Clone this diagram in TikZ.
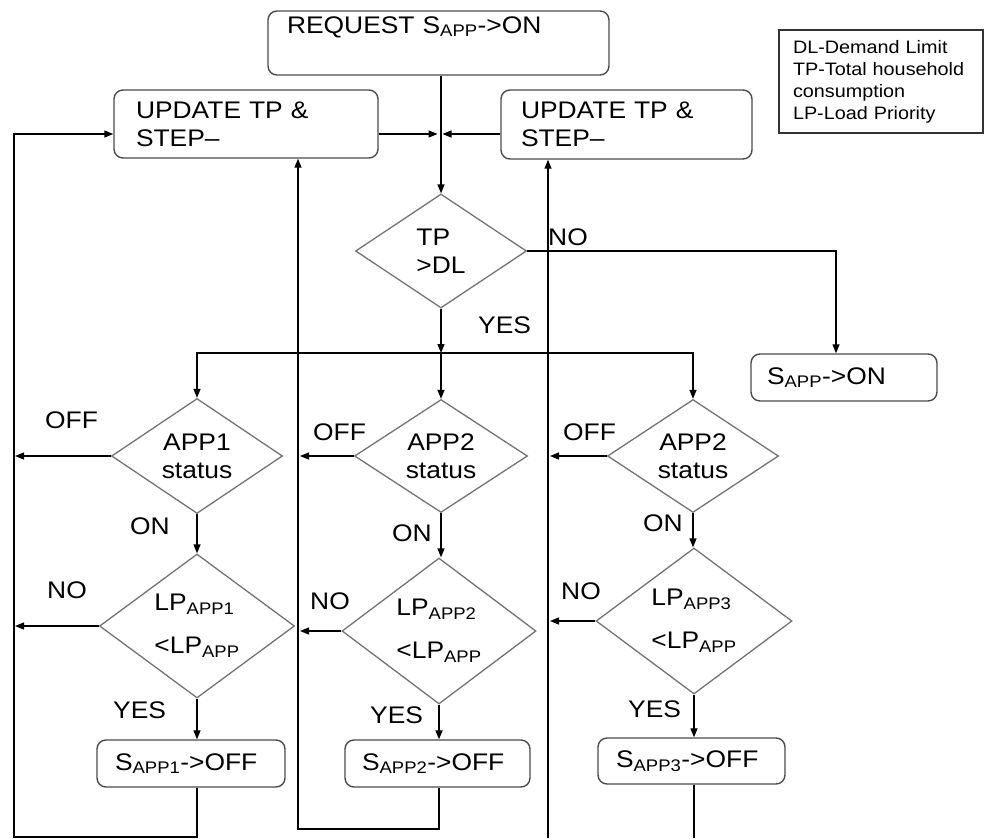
\documentclass[tikz,border=0pt]{standalone}
\usepackage{fontspec}
\setmainfont{Liberation Sans}[FakeStretch=1.1]
\usetikzlibrary{shapes.geometric,arrows.meta}
\newcommand{\appsub}[1]{\textsubscript{#1}}
\tikzset{
  box/.style={draw=black!70, line width=1.4pt, rounded corners=9pt, align=left, inner sep=0pt},
  dec/.style={draw=black!55, line width=1.3pt, diamond, aspect=1.4, inner sep=0pt, align=center},
  lbl/.style={anchor=west, inner sep=0pt},
  key/.style={draw=black!80, line width=1.3pt, align=left, inner sep=0pt, font=\fontsize{18}{22}\selectfont}
}
\begin{document}
\begin{tikzpicture}[x=1pt,y=-1pt,
    every node/.style={font=\fontsize{24}{28}\selectfont},
    >={Triangle[length=9pt,width=7pt]}]
  \useasboundingbox (0,0) rectangle (985,838);
  \draw
    (438.5,43) node[box,minimum width=341,minimum height=64,text width=303] (req) {REQUEST S\appsub{APP}->ON\\\strut}
    (246,124) node[box,minimum width=264,minimum height=68,text width=220] (updL) {UPDATE TP \&\\STEP--}
    (626.5,124.5) node[box,minimum width=251,minimum height=69,text width=211] (updR) {UPDATE TP \&\\STEP--}
    (881,81.5) node[key,minimum width=204,minimum height=103,text width=176] (legend) {DL-Demand Limit\\TP-Total household\\consumption\\LP-Load Priority}
    (441,251) node[dec,align=left,minimum width=171,minimum height=114] (tp) {TP\\>DL}
    (844,377.5) node[box,minimum width=186,minimum height=47,text width=154] (son) {S\appsub{APP}->ON}
    (197,456) node[dec,minimum width=171,minimum height=115] (a1) {APP1\\status}
    (441,456) node[dec,minimum width=173,minimum height=113] (a2) {APP2\\status}
    (693,456) node[dec,minimum width=171,minimum height=113] (a3) {APP2\\status}
    (197,626) node[dec,align=left,minimum width=195,minimum height=144] (lp1) {LP\appsub{APP1}\\[15pt]<LP\appsub{APP}}
    (439,631) node[dec,align=left,minimum width=194,minimum height=146] (lp2) {LP\appsub{APP2}\\[15pt]<LP\appsub{APP}}
    (694,621) node[dec,align=left,minimum width=196,minimum height=146] (lp3) {LP\appsub{APP3}\\[15pt]<LP\appsub{APP}}
    (191,763.5) node[box,minimum width=188,minimum height=47,text width=152] (off1) {S\appsub{APP1}->OFF}
    (437.5,763.5) node[box,minimum width=185,minimum height=47,text width=151] (off2) {S\appsub{APP2}->OFF}
    (691.5,761) node[box,minimum width=187,minimum height=46,text width=151] (off3) {S\appsub{APP3}->OFF};
  % branch labels
  \draw
    (548,237) node[lbl] (no0) {NO}
    (478,325) node[lbl] (yes0) {YES}
    (45,420) node[lbl] (offl1) {OFF}
    (313,432) node[lbl] (offl2) {OFF}
    (563,432) node[lbl] (offl3) {OFF}
    (130,526) node[lbl] (on1) {ON}
    (392,533) node[lbl] (on2) {ON}
    (643,523) node[lbl] (on3) {ON}
    (47,590) node[lbl] (no1) {NO}
    (310,601) node[lbl] (no2) {NO}
    (561,591) node[lbl] (no3) {NO}
    (113,710) node[lbl] (yes1) {YES}
    (370,715) node[lbl] (yes2) {YES}
    (628,709) node[lbl] (yes3) {YES};
  \coordinate (mid) at (440,134);
  \coordinate (split) at (441,353);
  \coordinate (L1) at (14,837);
  \coordinate (L2) at (298,829);
  \coordinate (L3) at (548,838);
  \coordinate (E3) at (694,838);
  \begin{scope}[->, line width=1.3pt]
    \draw (req.south -| tp.north) to (tp.north);
    \draw[shorten >=2.5pt] (updL.east |- mid) to (mid);
    \draw[shorten >=2.5pt] (updR.west |- mid) to (mid);
    \draw (tp.south) to (split);
    \draw (split) to (a2.north);
    \draw (split) -| (a1.north);
    \draw (split) -| (a3.north);
    \draw (tp.east) -| ([xshift=-8pt]son.north);
    % first column
    \draw[shorten >=1pt] (a1.west) to (a1.west -| L1);
    \draw (a1.south) to (lp1.north);
    \draw[shorten >=1pt] (lp1.west) to (lp1.west -| L1);
    \draw (lp1.south) to (lp1.south |- off1.north);
    \draw (off1.south -| lp1.south) |- (L1) |- (updL.west |- mid);
    % second column
    \draw[shorten >=2pt] (a2.west) to (a2.west -| L2);
    \draw (a2.south) to (a2.south |- lp2.north);
    \draw[shorten >=2pt] (lp2.west) to (lp2.west -| L2);
    \draw (lp2.south) to (lp2.south |- off2.north);
    \draw (off2.south -| lp2.south) |- (L2) to (L2 |- updL.south);
    % third column
    \draw[shorten >=2pt] (a3.west) to (a3.west -| L3);
    \draw (a3.south) to (a3.south |- lp3.north);
    \draw[shorten >=2pt] (lp3.west) to (lp3.west -| L3);
    \draw (lp3.south) to (lp3.south |- off3.north);
    \draw[-] (off3.south -| lp3.south) to (E3);
    \draw (L3) to (L3 |- updR.south);
  \end{scope}
\end{tikzpicture}
\end{document}
